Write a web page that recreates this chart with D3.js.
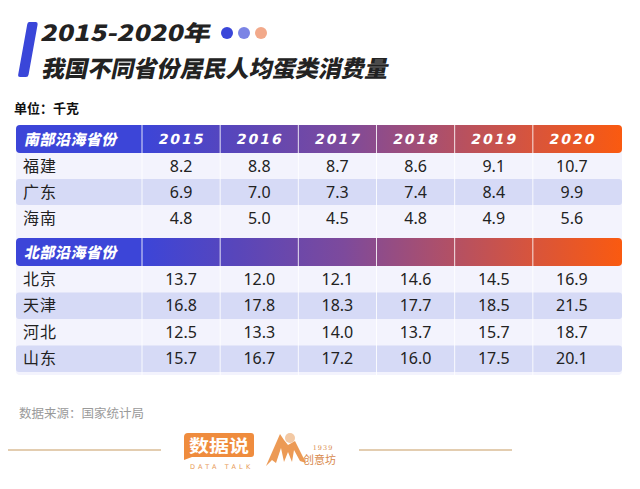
<!DOCTYPE html>
<html><head><meta charset="utf-8">
<script src="https://cdn.jsdelivr.net/npm/d3@7"></script>
<style>
html,body{margin:0;padding:0;background:#fff;}
svg{display:block;}
</style></head>
<body>
<svg id="chart" width="640" height="489"></svg>
<script>
// ---- data ----
const years = ['2015','2016','2017','2018','2019','2020'];
const southTitle = '南部沿海省份';
const southProvinces = ['福建','广东','海南'];
const southValues = [
  [8.2, 8.8, 8.7, 8.6, 9.1, 10.7],
  [6.9, 7.0, 7.3, 7.4, 8.4, 9.9],
  [4.8, 5.0, 4.5, 4.8, 4.9, 5.6]
];
const northTitle = '北部沿海省份';
const northProvinces = ['北京','天津','河北','山东'];
const northValues = [
  [13.7, 12.0, 12.1, 14.6, 14.5, 16.9],
  [16.8, 17.8, 18.3, 17.7, 18.5, 21.5],
  [12.5, 13.3, 14.0, 13.7, 15.7, 18.7],
  [15.7, 16.7, 17.2, 16.0, 17.5, 20.1]
];
const titleLine1 = '2015-2020年';
const titleLine2 = '我国不同省份居民人均蛋类消费量';
const unitText = '单位：千克';
const sourceText = '数据来源：国家统计局';

// ---- drawing ----
const svg = d3.select('#chart');
const CJK = "'Noto Sans CJK SC','Noto Sans',sans-serif";
const fmt = d3.format('.1f');

// title bar
svg.append('path')
  .attr('d', 'M29,22 L36,22 Q38,22 37.6,24.5 L28.6,74.5 Q28.2,77 26,77 L20,77 Q17.8,77 18.2,74.5 L27.2,24.5 Q27.6,22 29,22 Z')
  .attr('fill', '#3a46d9');

svg.append('text')
  .attr('transform', 'translate(40,41) skewX(-12)')
  .attr('font-family', CJK).attr('font-weight', 900).attr('font-size', 22)
  .attr('textLength', 170).attr('lengthAdjust', 'spacingAndGlyphs')
  .attr('fill', '#222').text(titleLine1);

const dotColors = ['#3a46d9', '#7b84e5', '#f2a98a'];
svg.selectAll('circle.dot').data(dotColors).join('circle')
  .attr('class', 'dot')
  .attr('cx', (d, i) => 227 + i * 17).attr('cy', 33).attr('r', 6)
  .attr('fill', d => d);

svg.append('text')
  .attr('transform', 'translate(41,77) skewX(-12)')
  .attr('font-family', CJK).attr('font-weight', 900).attr('font-size', 23)
  .attr('textLength', 346).attr('lengthAdjust', 'spacingAndGlyphs')
  .attr('fill', '#222').text(titleLine2);

svg.append('text')
  .attr('x', 14).attr('y', 113)
  .attr('font-family', CJK).attr('font-weight', 700).attr('font-size', 13)
  .attr('fill', '#111').text(unitText);

// ---- table ----
const tableLeft = 16, firstColRight = 142, colRight = 611, tableRight = 622;
const x = d3.scaleBand().domain(years).range([firstColRight, colRight]);

const defs = svg.append('defs');
const grad = defs.append('linearGradient').attr('id', 'hdr')
  .attr('gradientUnits', 'userSpaceOnUse')
  .attr('x1', firstColRight).attr('x2', tableRight).attr('y1', 0).attr('y2', 0);
[[0, '#3c45d8'], [0.2, '#5946ba'], [0.42, '#7d4a9c'], [0.6, '#a84f70'], [0.8, '#d5543f'], [1, '#fa5a10']]
  .forEach(([o, c]) => grad.append('stop').attr('offset', o).attr('stop-color', c));

// table background
const tableTop = 125, tableBottom = 375;
svg.append('rect')
  .attr('x', tableLeft).attr('y', tableTop).attr('width', tableRight - tableLeft)
  .attr('height', tableBottom - tableTop).attr('rx', 4).attr('fill', '#f3f3fd');

function block(title, provinces, values, headerTop, rowTop, rowBottom, showYears) {
  // header
  svg.append('rect')
    .attr('x', tableLeft).attr('y', headerTop).attr('width', tableRight - tableLeft)
    .attr('height', 28).attr('rx', 4).attr('fill', 'url(#hdr)');
  svg.append('text')
    .attr('transform', `translate(24,${headerTop + 19.5}) skewX(-12)`)
    .attr('font-family', CJK).attr('font-weight', 900).attr('font-size', 15)
    .attr('fill', '#fff').attr('letter-spacing', 0.5).text(title);
  if (showYears) {
    svg.selectAll(null).data(years).join('text')
      .attr('transform', d => `translate(${x(d) + x.bandwidth() / 2},${headerTop + 19}) skewX(-12)`)
      .attr('text-anchor', 'middle')
      .attr('font-family', "'DejaVu Sans',sans-serif").attr('font-weight', 700)
      .attr('font-size', 14).attr('letter-spacing', 2)
      .attr('fill', '#fff').text(d => d);
  }
  const y = d3.scaleBand().domain(provinces).range([rowTop, rowBottom]);
  const rows = svg.append('g');
  provinces.forEach((p, i) => {
    if (i % 2 === 1) {
      rows.append('rect')
        .attr('x', tableLeft).attr('y', y(p)).attr('width', tableRight - tableLeft)
        .attr('height', y.bandwidth()).attr('rx', 3).attr('fill', '#d6daf6');
    }
    const cy = y(p) + y.bandwidth() / 2 + 5.5;
    rows.append('text')
      .attr('x', 23).attr('y', cy)
      .attr('font-family', CJK).attr('font-size', 16).attr('fill', '#222')
      .attr('letter-spacing', 1).text(p);
    rows.selectAll(null).data(values[i]).join('text')
      .attr('x', (d, j) => x(years[j]) + x.bandwidth() / 2)
      .attr('y', cy)
      .attr('text-anchor', 'middle')
      .attr('font-family', "'Noto Sans',sans-serif").attr('font-size', 16)
      .attr('fill', '#222').text(d => fmt(d));
  });
}

block(southTitle, southProvinces, southValues, 125, 153, 231, true);
block(northTitle, northProvinces, northValues, 238, 266, 372, false);

// vertical separators
const seps = [firstColRight].concat(years.slice(1).map(d => x(d)));
svg.selectAll('line.sep').data(seps).join('line')
  .attr('class', 'sep')
  .attr('x1', d => d).attr('x2', d => d)
  .attr('y1', tableTop).attr('y2', tableBottom)
  .attr('stroke', '#fff').attr('stroke-opacity', 0.85).attr('stroke-width', 1);

// source
svg.append('text')
  .attr('x', 19).attr('y', 418)
  .attr('font-family', CJK).attr('font-size', 12.5)
  .attr('fill', '#9a9a9a').text(sourceText);

// footer lines
svg.append('line').attr('x1', 8).attr('x2', 161).attr('y1', 450).attr('y2', 450)
  .attr('stroke', '#e3cdb0').attr('stroke-width', 2);
svg.append('line').attr('x1', 359).attr('x2', 512).attr('y1', 450).attr('y2', 450)
  .attr('stroke', '#e3cdb0').attr('stroke-width', 2);

// logo 1: 数据说
svg.append('path')
  .attr('d', 'M188,433 L251,433 Q254,433 254,436 L254,454 Q254,457 251,457 L192,457 L184,460 L184,437 Q184,433 188,433 Z')
  .attr('fill', '#ef8c3e');
svg.append('text').attr('x', 219).attr('y', 451.5).attr('text-anchor', 'middle')
  .attr('font-family', CJK).attr('font-weight', 700).attr('font-size', 17)
  .attr('fill', '#fff').attr('textLength', 60).attr('lengthAdjust', 'spacingAndGlyphs')
  .text('数据说');
svg.append('text').attr('x', 190).attr('y', 469)
  .attr('font-family', "'DejaVu Sans',sans-serif").attr('font-size', 6.5)
  .attr('fill', '#e79a58').attr('letter-spacing', 3.2).text('DATA TALK');

// logo 2: mountain + 1939 创意坊
svg.append('circle').attr('cx', 290).attr('cy', 438).attr('r', 5).attr('fill', '#f3c9a4');
svg.append('path')
  .attr('d', 'M266,466 L280,434 L284,440 L288,445 L295,441 L306,463 L300,461 L294,450 L292,462 L288,452 L284,462 L281,448 L276,463 L272,460 Z')
  .attr('fill', '#ec9a55');
svg.append('text').attr('x', 323).attr('y', 450).attr('text-anchor', 'middle')
  .attr('font-family', "'DejaVu Serif',serif").attr('font-size', 6.5)
  .attr('fill', '#d98a4c').attr('letter-spacing', 1).text('1939');
svg.append('text').attr('x', 303).attr('y', 464)
  .attr('font-family', CJK).attr('font-size', 11)
  .attr('fill', '#d98a4c').text('创意坊');
</script>
</body></html>
